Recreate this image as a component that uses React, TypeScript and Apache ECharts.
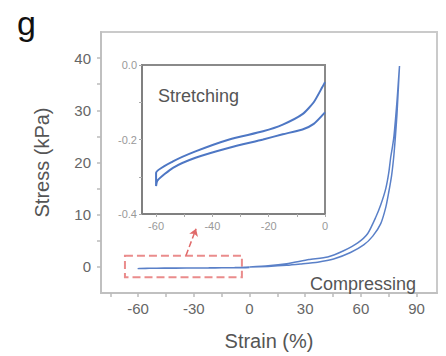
import React, { useEffect, useRef } from "react";
import * as echarts from "echarts";

// ---- Data ----
// Compression loop: loading branch (right strand) then unloading branch (left strand)
const compLoadStrain = [0, 10, 20, 27.5, 36.7, 45.3, 54.4, 61.5, 66.4, 70.7, 73.4, 75, 76.5, 77.7, 78.6, 79.4, 80, 80.5, 80.8];
const compLoadStress = [0, 0.1, 0.3, 0.55, 0.9, 1.5, 2.75, 4.2, 5.9, 8.3, 11.4, 14.3, 17.4, 21.1, 25, 29, 33, 36.5, 38.5];
const compUnloadStrain = [80.8, 80.2, 79.5, 78.7, 77.8, 77.0, 76.1, 75.0, 73.4, 70.7, 68, 63.7, 58.3, 50.7, 42.1, 32, 20, 10, 0];
const compUnloadStress = [38.5, 35.5, 32, 28.5, 25, 23, 21.1, 18, 15.0, 11.9, 9.5, 6.4, 4.6, 3.1, 1.9, 1.4, 0.6, 0.2, 0];

// Stretching loop (kPa), shown in the inset and along 0 in the main plot
const stretchUpperStrain = [0, -1, -4, -8, -15, -22, -34, -46, -54, -60];
const stretchUpperStress = [-0.046, -0.06, -0.1, -0.132, -0.16, -0.178, -0.2, -0.232, -0.259, -0.29];
const stretchLowerStrain = [-60, -59.5, -54, -46, -34, -22, -15, -8, -4, 0];
const stretchLowerStress = [-0.325, -0.31, -0.276, -0.249, -0.222, -0.2, -0.186, -0.173, -0.158, -0.127];

// Axis ticks / labels
const mainStrainTicks = [-75, -60, -45, -30, -15, 0, 15, 30, 45, 60, 75, 90];
const mainStrainLabels = [-60, -30, 0, 30, 60, 90];
const mainStressTicks = [0, 5, 10, 15, 20, 25, 30, 35, 40];
const mainStressLabels = [0, 10, 20, 30, 40];
const insetStrainTicks = [-60, -50, -40, -30, -20, -10, 0];
const insetStrainLabels = [-60, -40, -20, 0];
const insetStressTicks = [-0.4, -0.3, -0.2, -0.1, 0];
const insetStressLabels = [-0.4, -0.2, 0];

// Annotation (zoom box and arrow) in data coordinates of the main plot
const zoomBoxCorners = [[-67.1, 2.15], [-4.1, -2.0]];
const arrowEnds = [[-34.2, 2.2], [-28.8, 7.3]];

const FONT = "'Liberation Sans', Arial, Helvetica, sans-serif";

const zip = (xs: number[], ys: number[]) => xs.map((x, i) => [x, ys[i]]);

export default function App() {
  const ref = useRef<HTMLDivElement>(null);
  useEffect(() => {
    if (!ref.current) return;
    const chart = echarts.init(ref.current, undefined, { renderer: "svg" });
    const stretchLoop = [
      ...zip(stretchUpperStrain, stretchUpperStress),
      ...zip(stretchLowerStrain, stretchLowerStress),
    ];
    const compLoop = [
      ...zip(compLoadStrain, compLoadStress),
      ...zip(compUnloadStrain, compUnloadStress),
    ];
    const lineColor = "#5a80c8";
    chart.setOption({
      animation: false,
      backgroundColor: "#ffffff",
      textStyle: { fontFamily: FONT },
      grid: [
        {
          left: 101, top: 32, width: 336, height: 270,
          show: true, borderColor: "#cacaca", borderWidth: 2, backgroundColor: "#fff",
        },
        {
          left: 142, top: 65, width: 183, height: 149,
          show: true, borderColor: "#8a8a8a", borderWidth: 2, backgroundColor: "#fff", z: 5,
        },
      ],
      xAxis: [
        {
          type: "value", gridIndex: 0, min: -80, max: 101,
          name: "Strain (%)", nameLocation: "middle", nameGap: 38,
          nameTextStyle: { fontSize: 20, color: "#555", fontFamily: FONT },
          axisLine: { show: true, onZero: false, lineStyle: { color: "#c0c0c0", width: 2 } },
          axisTick: { show: true, customValues: mainStrainTicks, length: 4, lineStyle: { color: "#bbb", width: 1.5 } },
          axisLabel: { customValues: mainStrainLabels, fontSize: 15, color: "#666", margin: 8, fontFamily: FONT },
          splitLine: { show: false },
        },
        {
          type: "value", gridIndex: 1, min: -65, max: 0, z: 6,
          axisLine: { show: true, onZero: false, lineStyle: { color: "#808080", width: 2 } },
          axisTick: { show: true, customValues: insetStrainTicks, length: 3, lineStyle: { color: "#aaa" } },
          axisLabel: { customValues: insetStrainLabels, fontSize: 11, color: "#999", margin: 6, fontFamily: FONT },
          splitLine: { show: false },
        },
      ],
      yAxis: [
        {
          type: "value", gridIndex: 0, min: -5, max: 45,
          name: "Stress (kPa)", nameLocation: "middle", nameGap: 49,
          nameTextStyle: { fontSize: 20, color: "#555", fontFamily: FONT },
          axisLine: { show: true, onZero: false, lineStyle: { color: "#c0c0c0", width: 2 } },
          axisTick: { show: true, customValues: mainStressTicks, length: 4, lineStyle: { color: "#bbb", width: 1.5 } },
          axisLabel: { customValues: mainStressLabels, fontSize: 15, color: "#666", margin: 10, fontFamily: FONT },
          splitLine: { show: false },
        },
        {
          type: "value", gridIndex: 1, min: -0.4, max: 0, z: 6,
          axisLine: { show: true, onZero: false, lineStyle: { color: "#808080", width: 2 } },
          axisTick: { show: true, customValues: insetStressTicks, length: 3, lineStyle: { color: "#aaa" } },
          axisLabel: {
            customValues: insetStressLabels, fontSize: 11, color: "#999", margin: 5, fontFamily: FONT,
            formatter: (v: number) => v.toFixed(1),
          },
          splitLine: { show: false },
        },
      ],
      series: [
        {
          type: "line", xAxisIndex: 0, yAxisIndex: 0, data: stretchLoop,
          showSymbol: false, smooth: 0.2,
          lineStyle: { color: lineColor, width: 1.5 },
          markArea: {
            silent: true,
            itemStyle: { color: "rgba(0,0,0,0)", borderColor: "#ea8c8c", borderWidth: 2, borderType: "dashed" },
            data: [[{ coord: zoomBoxCorners[0] }, { coord: zoomBoxCorners[1] }]],
          },
          markLine: {
            silent: true,
            symbol: ["none", "arrow"],
            symbolSize: 7,
            label: { show: false },
            lineStyle: { color: "#e06a6a", width: 1.5, type: "dashed" },
            data: [[{ coord: arrowEnds[0] }, { coord: arrowEnds[1] }]],
          },
        },
        {
          type: "line", xAxisIndex: 0, yAxisIndex: 0, data: compLoop,
          showSymbol: false, smooth: 0.2,
          lineStyle: { color: lineColor, width: 1.5 },
        },
        {
          type: "line", xAxisIndex: 1, yAxisIndex: 1, data: stretchLoop, z: 10,
          showSymbol: false, smooth: 0.2,
          lineStyle: { color: "#4e77c4", width: 2 },
        },
      ],
      graphic: [
        {
          type: "text", left: 17, top: 6, z: 20,
          style: { text: "g", fontSize: 34, fill: "#111", fontFamily: FONT },
        },
        {
          type: "text", left: 158, top: 87, z: 20,
          style: { text: "Stretching", fontSize: 18, fill: "#555", fontFamily: FONT },
        },
        {
          type: "text", left: 310, top: 275, z: 20,
          style: { text: "Compressing", fontSize: 18, fill: "#555", fontFamily: FONT },
        },
      ],
    });
    return () => chart.dispose();
  }, []);
  return <div ref={ref} style={{ width: 446, height: 356, position: "absolute", left: 0, top: 0 }} />;
}
